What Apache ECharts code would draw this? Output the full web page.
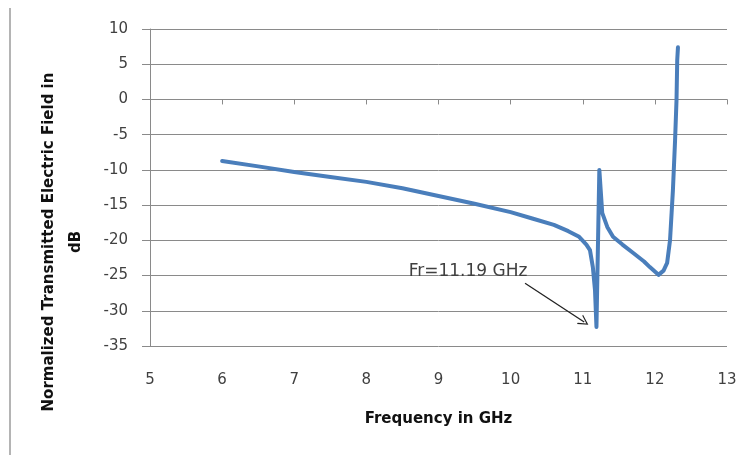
<!DOCTYPE html>
<html>
<head>
<meta charset="utf-8">
<script src="https://cdn.jsdelivr.net/npm/echarts@6/dist/echarts.min.js"></script>
<style>
  html, body { margin: 0; padding: 0; background: #fff; }
  #chart { width: 750px; height: 455px; }
</style>
</head>
<body>
<div id="chart"></div>
<script>
// frequency (GHz) and normalized transmitted field (dB)
const freq = [6.0, 6.5, 7.0, 7.5, 8.0, 8.5, 9.0, 9.5, 10.0, 10.3, 10.6, 10.8, 10.95, 11.05, 11.1,
  11.14, 11.17, 11.19, 11.23, 11.27, 11.34, 11.42, 11.55, 11.7, 11.85, 11.93, 12.05, 12.12,
  12.17, 12.21, 12.25, 12.28, 12.3, 12.31, 12.32]
const field = [-8.75, -9.5, -10.3, -11.0, -11.7, -12.6, -13.7, -14.8, -16.0, -16.9, -17.8, -18.7, -19.5, -20.6, -21.4,
  -23.8, -27.1, -32.3, -10.0, -16.1, -18.1, -19.5, -20.6, -21.8, -23.0, -23.8, -24.9, -24.3,
  -23.2, -20.0, -12.9, -5.8, -0.1, 5.6, 7.4]

const xTicks = [5, 13, 1]      // min, max, step
const yTicks = [-35, 10, 5]

// annotation
const noteText = 'Fr=11.19 GHz'
const notePos = [9.41, -24.5]
const arrowFrom = [10.2, -26.1]
const arrowTo = [11.02, -31.6]

const font = 'DejaVu Sans'
const gridColor = '#8a8a8a'
const textColor = '#404040'

const chart = echarts.init(document.getElementById('chart'))

chart.setOption({
  animation: false,
  backgroundColor: '#fff',
  grid: {
    left: 150,
    right: 23,
    top: 29,
    bottom: 109
  },
  graphic: [{
    type: 'line',
    shape: { x1: 10, y1: 8, x2: 10, y2: 455 },
    style: { stroke: '#b4b4b4', lineWidth: 2 }
  }, {
    type: 'text',
    x: 63,
    y: 242,
    rotation: Math.PI / 2,
    style: {
      text: 'Normalized Transmitted Electric Field in\ndB',
      font: 'bold 15px "DejaVu Sans"',
      fill: '#111',
      align: 'center',
      verticalAlign: 'middle',
      lineHeight: 27
    }
  }],
  xAxis: [{
    type: 'value',
    min: xTicks[0],
    max: xTicks[1],
    interval: xTicks[2],
    position: 'bottom',
    axisLine: { show: false, onZero: false },
    axisTick: { show: false },
    splitLine: { show: false },
    axisLabel: {
      margin: 27,
      color: textColor,
      fontFamily: font,
      fontSize: 15
    },
    name: 'Frequency in GHz',
    nameLocation: 'middle',
    nameGap: 66,
    nameTextStyle: {
      color: '#111',
      fontFamily: font,
      fontSize: 15,
      fontWeight: 'bold'
    }
  }, {
    type: 'value',
    min: xTicks[0],
    max: xTicks[1],
    interval: xTicks[2],
    position: 'bottom',
    axisLine: {
      show: true,
      onZero: true,
      lineStyle: { color: gridColor, width: 1 }
    },
    axisTick: {
      show: true,
      length: 5,
      lineStyle: { color: gridColor }
    },
    axisLabel: { show: false },
    splitLine: { show: false }
  }],
  yAxis: {
    type: 'value',
    min: yTicks[0],
    max: yTicks[1],
    interval: yTicks[2],
    axisLine: {
      show: true,
      lineStyle: { color: gridColor, width: 1 }
    },
    axisTick: {
      show: true,
      length: 8,
      lineStyle: { color: gridColor }
    },
    splitLine: {
      lineStyle: { color: gridColor, width: 1 }
    },
    axisLabel: {
      margin: 22,
      color: textColor,
      fontFamily: font,
      fontSize: 15
    }
  },
  series: [{
    type: 'line',
    xAxisIndex: 0,
    data: freq.map((f, i) => [f, field[i]]),
    showSymbol: false,
    lineStyle: {
      color: '#4a7ebb',
      width: 4,
      cap: 'round',
      join: 'round'
    },
    markLine: {
      silent: true,
      // open chevron head, tip at the top of the path
      symbol: ['none', 'path://M0,10 L5,0 L10,10 L8.8,10 L5,2.4 L1.2,10 Z'],
      symbolSize: [11, 10],
      label: { show: false },
      lineStyle: { color: '#222', width: 1.3, type: 'solid' },
      data: [[{ coord: arrowFrom }, { coord: arrowTo }]]
    },
    markPoint: {
      silent: true,
      symbol: 'circle',
      symbolSize: 0,
      label: {
        show: true,
        position: 'inside',
        formatter: noteText,
        color: textColor,
        fontFamily: font,
        fontSize: 17
      },
      data: [{ coord: notePos }]
    }
  }]
})
</script>
</body>
</html>
